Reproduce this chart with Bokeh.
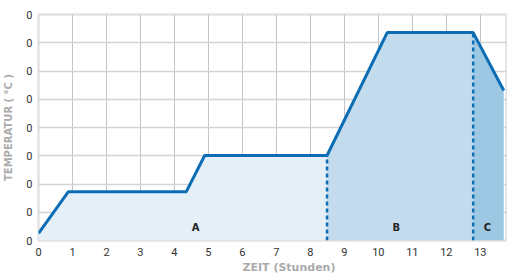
from bokeh.plotting import figure
from bokeh.embed import file_html
from bokeh.resources import INLINE
from bokeh.core.properties import value
from bokeh.models import FixedTicker, Title

# data (hours, temperature in grid units)
hours = [0.0, 0.88, 4.35, 4.89, 8.49, 10.26, 12.79, 13.69]
temps = [0.25, 1.73, 1.73, 3.01, 3.01, 7.36, 7.36, 5.31]
phase_names = ["A", "B", "C"]
phase_label_x = [4.62, 10.53, 13.21]
phase_label_y = [0.46, 0.46, 0.46]
phase_bounds = [8.49, 12.79]
x_ticks = list(range(0, 15))
y_ticks = list(range(0, 9))
y_tick_labels = ["0"] * 9

FONT = "Roboto"
LFONT = "DejaVu Sans"
LINE = "#0b6db3"

p = figure(frame_width=469, frame_height=226, output_backend="svg", toolbar_location=None,
           x_range=(0, 13.8), y_range=(0, 8),
           min_border_left=0, min_border_right=0, min_border_top=14, min_border_bottom=0)

p.outline_line_color = "#e2e2e2"
p.outline_line_width = 2.5

# fills
i1 = hours.index(phase_bounds[0])
i2 = hours.index(phase_bounds[1])
fills = ["#e4eff7", "#c2dcee", "#9dc8e3"]
segs = [(0, i1), (i1, i2), (i2, len(hours) - 1)]
for (a, b), c in zip(segs, fills):
    p.varea(x=hours[a:b + 1], y1=[0] * (b - a + 1), y2=temps[a:b + 1], fill_color=c)

# grid
p.xgrid.grid_line_color = "#c4c4c4"
p.xgrid.grid_line_width = 1
p.ygrid.grid_line_color = "#d4d4d4"
p.ygrid.grid_line_width = 1.6
p.xaxis.ticker = FixedTicker(ticks=x_ticks)
p.yaxis.ticker = FixedTicker(ticks=y_ticks)
p.yaxis.major_label_overrides = {t: l for t, l in zip(y_ticks, y_tick_labels)}
p.grid.level = "underlay"

# dashed boundaries
for b in phase_bounds:
    yb = temps[hours.index(b)]
    p.line([b, b], [0, yb], line_color=LINE, line_width=2.5, line_dash="4 3")

p.line(hours, temps, line_color=LINE, line_width=3)

p.text(x=phase_label_x, y=phase_label_y, text=phase_names,
       text_font=value(LFONT), text_font_size="10px", text_font_style="bold",
       text_color="#222222", text_align="center", text_baseline="middle")

for ax in (p.xaxis, p.yaxis):
    ax.axis_line_color = None
    ax.major_tick_line_color = None
    ax.minor_tick_line_color = None
    ax.major_tick_in = 0
    ax.major_tick_out = 0
    ax.minor_tick_in = 0
    ax.minor_tick_out = 0
    ax.major_label_text_font = FONT
    ax.major_label_text_font_size = "11px"
    ax.major_label_text_color = "#333333"
    ax.axis_label_text_font = LFONT
    ax.axis_label_text_font_style = "bold"
    ax.axis_label_text_color = "#aaaaaa"

p.yaxis.axis_label = "TEMPERATUR ( °C )"
p.yaxis.axis_label_text_font_size = "10px"
p.xaxis.major_label_standoff = 7
p.yaxis.major_label_standoff = 6
p.yaxis.axis_label_standoff = 9

xlabel = Title(text="ZEIT (Stunden)", align="left", offset=204,
               text_font=LFONT, text_font_size="11px", text_font_style="bold",
               text_color="#aaaaaa", standoff=0)
p.add_layout(xlabel, "below")

open("out.html", "w").write(file_html(p, INLINE))
